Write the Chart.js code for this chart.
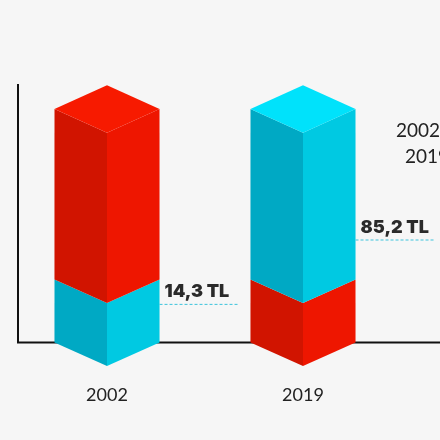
<!DOCTYPE html>
<html>
<head>
<meta charset="utf-8">
<script src="https://cdn.jsdelivr.net/npm/chart.js@4"></script>
<style>
  body { margin: 0; background: #f6f6f6; }
  canvas { display: block; }
</style>
</head>
<body>
<canvas id="grafico" width="440" height="440"></canvas>
<script>
const yillar = ["2002", "2019"];
const maviPay = [27, 73];
const kirmiziPay = [73, 27];
const etiketler = ["14,3 TL", "85,2 TL"];

// alt dilim: 2002'de mavi, 2019'da kırmızı
const altPay = yillar.map((y, i) => i === 0 ? maviPay[i] : kirmiziPay[i]);
const ustPay = yillar.map((y, i) => i === 0 ? kirmiziPay[i] : maviPay[i]);

const renkler = {
  mavi: { sol: "#00a9c4", sag: "#00c9e2", ust: "#00e2fb" },
  kirmizi: { sol: "#d11400", sag: "#ee1600", ust: "#f71a00" }
};

function prizma(ctx, el, renk, ustYuz) {
  const h = el.width / 2, d = h * 0.45;
  const x = el.x, yT = el.y, yB = el.base;
  ctx.fillStyle = renk.sol;
  ctx.beginPath();
  ctx.moveTo(x - h, yT); ctx.lineTo(x, yT + d); ctx.lineTo(x, yB + d); ctx.lineTo(x - h, yB);
  ctx.fill();
  ctx.fillStyle = renk.sag;
  ctx.beginPath();
  ctx.moveTo(x + h, yT); ctx.lineTo(x, yT + d); ctx.lineTo(x, yB + d); ctx.lineTo(x + h, yB);
  ctx.fill();
  if (ustYuz) {
    ctx.fillStyle = renk.ust;
    ctx.beginPath();
    ctx.moveTo(x - h, yT); ctx.lineTo(x, yT - d); ctx.lineTo(x + h, yT); ctx.lineTo(x, yT + d);
    ctx.fill();
  }
}

const ciz3d = {
  id: "ciz3d",
  beforeDatasetsDraw(chart) {
    const ctx = chart.ctx, a = chart.chartArea;
    ctx.save();
    ctx.strokeStyle = "#111";
    ctx.lineWidth = 2;
    ctx.beginPath();
    ctx.moveTo(18, 84); ctx.lineTo(18, a.bottom); ctx.lineTo(440, a.bottom);
    ctx.stroke();
    ctx.restore();
  },
  afterDatasetsDraw(chart) {
    const ctx = chart.ctx;
    const alt = chart.getDatasetMeta(0).data;
    const ust = chart.getDatasetMeta(1).data;
    ctx.save();
    yillar.forEach((y, i) => {
      const altRenk = i === 0 ? renkler.mavi : renkler.kirmizi;
      const ustRenk = i === 0 ? renkler.kirmizi : renkler.mavi;
      prizma(ctx, alt[i], altRenk, false);
      prizma(ctx, ust[i], ustRenk, true);

      // etiket + kesikli çizgi
      const el = i === 0 ? alt[i] : ust[i];
      const yCizgi = el.y + (i === 0 ? 25 : 131);
      const x0 = el.x + el.width / 2;
      ctx.strokeStyle = "#3cc3dc";
      ctx.lineWidth = 1;
      ctx.setLineDash([3, 2]);
      ctx.beginPath();
      ctx.moveTo(x0, yCizgi); ctx.lineTo(x0 + 78, yCizgi);
      ctx.stroke();
      ctx.setLineDash([]);
      ctx.fillStyle = "#2a2a2a";
      ctx.font = "900 18px Inter";
      ctx.textBaseline = "alphabetic";
      ctx.fillText(etiketler[i], x0 + 5, yCizgi - 7);
    });
    ctx.fillStyle = "#222";
    ctx.font = "19px Lato";
    ctx.fillText("2002", 396, 137);
    ctx.fillText("2019", 405, 163);
    ctx.restore();
  }
};

new Chart(document.getElementById("grafico").getContext("2d"), {
  type: "bar",
  data: {
    labels: yillar,
    datasets: [
      { data: altPay, backgroundColor: "transparent", barPercentage: 0.536, categoryPercentage: 1 },
      { data: ustPay, backgroundColor: "transparent", barPercentage: 0.536, categoryPercentage: 1 }
    ]
  },
  options: {
    responsive: false,
    animation: false,
    layout: { padding: { left: 9, right: 39, top: 109 } },
    plugins: { legend: { display: false }, tooltip: { enabled: false } },
    scales: {
      x: {
        stacked: true,
        grid: { display: false },
        border: { display: false },
        ticks: { color: "#222", font: { family: "Lato", size: 18 }, padding: 34 }
      },
      y: {
        stacked: true,
        min: 0, max: 100,
        display: false
      }
    }
  },
  plugins: [ciz3d]
});
</script>
</body>
</html>
